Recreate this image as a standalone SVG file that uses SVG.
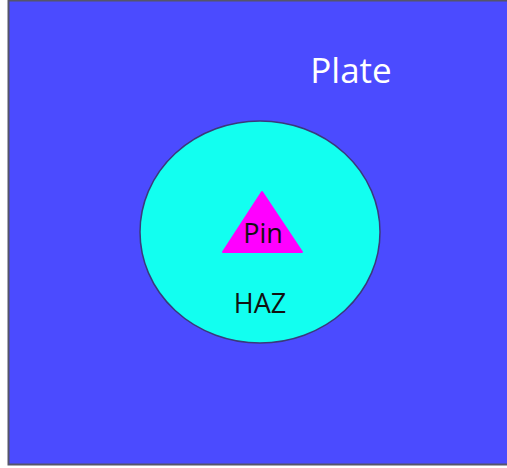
<svg xmlns="http://www.w3.org/2000/svg" width="507" height="468" viewBox="0 0 507 468">
<style>
text{font-family:"Open Sans","Noto Sans",sans-serif;}
.lbl{font-size:27px;fill:#111;text-anchor:middle;}
</style>
<rect width="507" height="468" fill="#ffffff"/>
<g id="plate">
<rect x="8.5" y="0.5" width="510" height="464" fill="#4b4bff" stroke="#55556a" stroke-width="2"/>
<text x="351" y="83" font-size="35" fill="#ffffff" text-anchor="middle">Plate</text>
</g>
<g id="haz">
<ellipse cx="260" cy="232" rx="120" ry="111" fill="#12fff0" stroke="#3a3a7a" stroke-width="1.5"/>
<text class="lbl" x="260" y="313">HAZ</text>
</g>
<g id="pin">
<polygon points="262,192 223,252 302,252" fill="#ff00ff" stroke="#ff00ff" stroke-width="2" stroke-linejoin="round"/>
<text class="lbl" x="263" y="243">Pin</text>
</g>
</svg>
